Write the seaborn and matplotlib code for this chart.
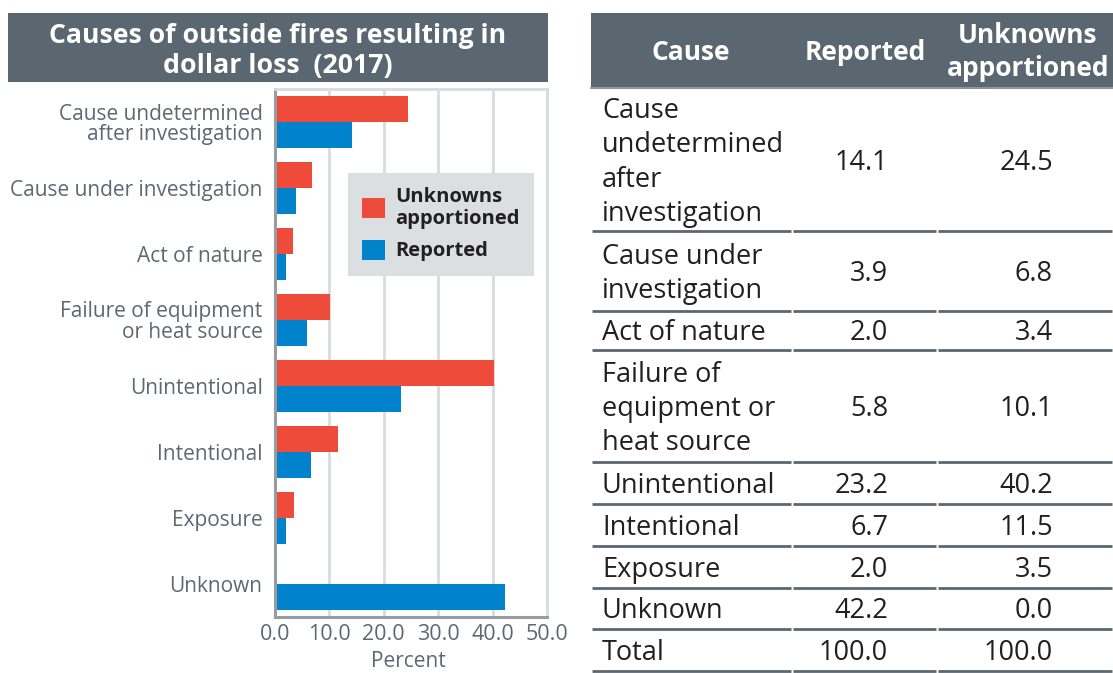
import numpy as np
import pandas as pd
import matplotlib
matplotlib.use("Agg")
import matplotlib.pyplot as plt
from matplotlib.patches import Rectangle, Patch
import seaborn as sns

# ---- data -------------------------------------------------------------
causes = [
    "Cause undetermined\nafter investigation",
    "Cause under investigation",
    "Act of nature",
    "Failure of equipment\nor heat source",
    "Unintentional",
    "Intentional",
    "Exposure",
    "Unknown",
]
table_causes = [
    "Cause\nundetermined\nafter\ninvestigation",
    "Cause under\ninvestigation",
    "Act of nature",
    "Failure of\nequipment or\nheat source",
    "Unintentional",
    "Intentional",
    "Exposure",
    "Unknown",
    "Total",
]
reported = [14.1, 3.9, 2.0, 5.8, 23.2, 6.7, 2.0, 42.2]
apportioned = [24.5, 6.8, 3.4, 10.1, 40.2, 11.5, 3.5, 0.0]
total_reported = 100.0
total_apportioned = 100.0
series = ["Unknowns apportioned", "Reported"]
legend_labels = ["Unknowns\napportioned", "Reported"]
x_ticks = [0, 10, 20, 30, 40, 50]
x_ticklabels = ["0.0", "10.0", "20.0", "30.0", "40.0", "50.0"]
title = "Causes of outside fires resulting in\ndollar loss  (2017)"
header = ["Cause", "Reported", "Unknowns\napportioned"]

# ---- styling ----------------------------------------------------------
RED = "#ee4b3a"
BLUE = "#0083cc"
SLATE = "#5b6770"
GRID = "#d8dcdf"
AXIS = "#969ca2"
LABEL = "#5d6872"
TEXT = "#231f20"

sns.set_style("white")
plt.rcParams["font.family"] = ["Open Sans", "DejaVu Sans"]

W, H = 1113, 673
fig = plt.figure(figsize=(W / 100, H / 100), dpi=100)


def fx(px):
    return px / W


def fy(py):
    return 1 - py / H


# ---- bar chart --------------------------------------------------------
df = pd.DataFrame({
    "Cause": causes * 2,
    "Series": [series[0]] * len(causes) + [series[1]] * len(causes),
    "Percent": apportioned + reported,
})

ax = fig.add_axes([fx(275), fy(617), fx(547) - fx(275), fy(89) - fy(617)])
sns.barplot(data=df, y="Cause", x="Percent", hue="Series", order=causes,
            hue_order=series, palette=[RED, BLUE], orient="h", saturation=1,
            width=0.8, linewidth=0, legend=False, ax=ax)

ax.set_xlim(0, 50)
ax.set_ylim(len(causes) - 0.5, -0.5)
ax.set_xticks(x_ticks, x_ticklabels)
ax.set_yticks(np.arange(-0.5, len(causes), 1.0), [""] * (len(causes) + 1))
ax.set_yticks(np.arange(len(causes)), causes, minor=True)
ax.tick_params(axis="y", which="major", length=5, width=2, color=AXIS,
               direction="out")
ax.tick_params(axis="y", which="minor", length=0, pad=9,
               labelsize=15, labelcolor=LABEL)
ax.tick_params(axis="x", length=0, pad=5, labelsize=15.5, labelcolor=LABEL)
for lab in ax.get_yticklabels(minor=True):
    lab.set_multialignment("right")
    lab.set_linespacing(0.98)
ax.set_xlabel("")
ax.set_ylabel("")
ax.xaxis.grid(True, color=GRID, linewidth=2)
ax.set_axisbelow(True)
for side in ("left", "bottom"):
    ax.spines[side].set_color(AXIS)
    ax.spines[side].set_linewidth(2.2)
for side in ("top", "right"):
    ax.spines[side].set_color(GRID)
    ax.spines[side].set_linewidth(2)

handles = [Patch(facecolor=c, edgecolor="none") for c in (RED, BLUE)]
leg = ax.legend(handles, legend_labels, loc="upper left",
                bbox_to_anchor=(0.268, 0.841), borderaxespad=0,
                frameon=True, fancybox=False,
                facecolor="#dcdfe1", edgecolor="none", framealpha=1,
                handlelength=1.15, handleheight=1.15, handletextpad=0.5,
                labelspacing=0.55, borderpad=0.7,
                prop={"size": 14.5, "weight": "bold"})
for t in leg.get_texts():
    t.set_color(TEXT)
    t.set_linespacing(1.1)

fig.text(fx(408), fy(672), "Percent", ha="center", va="bottom",
         fontsize=15, color=LABEL)

# ---- banner + table (pixel coordinates) -------------------------------
tx = fig.add_axes([0, 0, 1, 1], zorder=-1)
tx.set_xlim(0, W)
tx.set_ylim(H, 0)
tx.axis("off")

tx.add_patch(Rectangle((8, 13), 540, 69, color=SLATE, lw=0))
tx.text(278, 51, title, ha="center", va="center", color="white",
        fontsize=19.2, fontweight="bold", linespacing=1.2)

tx.add_patch(Rectangle((591, 13), W - 591, 75, color=SLATE, lw=0))
head_x = [691, 865, 1028]
for hx, h in zip(head_x, header):
    tx.text(hx, 52, h, ha="center", va="center", color="white",
            fontsize=19, fontweight="bold", linespacing=1.25)

row_heights = [143, 80, 39, 112, 42, 42, 42, 41, 42]
col_edges = [591, 792, 937, W]
rep_vals = reported + [total_reported]
app_vals = apportioned + [total_apportioned]
y = 88
tx.plot([591, W], [y, y], color="#8e969c", lw=1.5)
for name, rv, av, rh in zip(table_causes, rep_vals, app_vals, row_heights):
    yc = y + rh / 2 + 3
    tx.text(602, yc, name, ha="left", va="center", color=TEXT,
            fontsize=19.5, linespacing=1.3)
    tx.text(888, yc, f"{rv:.1f}", ha="right", va="center", color=TEXT,
            fontsize=19.5)
    tx.text(1053, yc, f"{av:.1f}", ha="right", va="center", color=TEXT,
            fontsize=19.5)
    y += rh
    for a, b in zip(col_edges[:-1], col_edges[1:]):
        tx.plot([a + 1, b - 1], [y, y], color=SLATE, lw=2,
                solid_capstyle="butt")

fig.savefig("out.png", dpi=100)
